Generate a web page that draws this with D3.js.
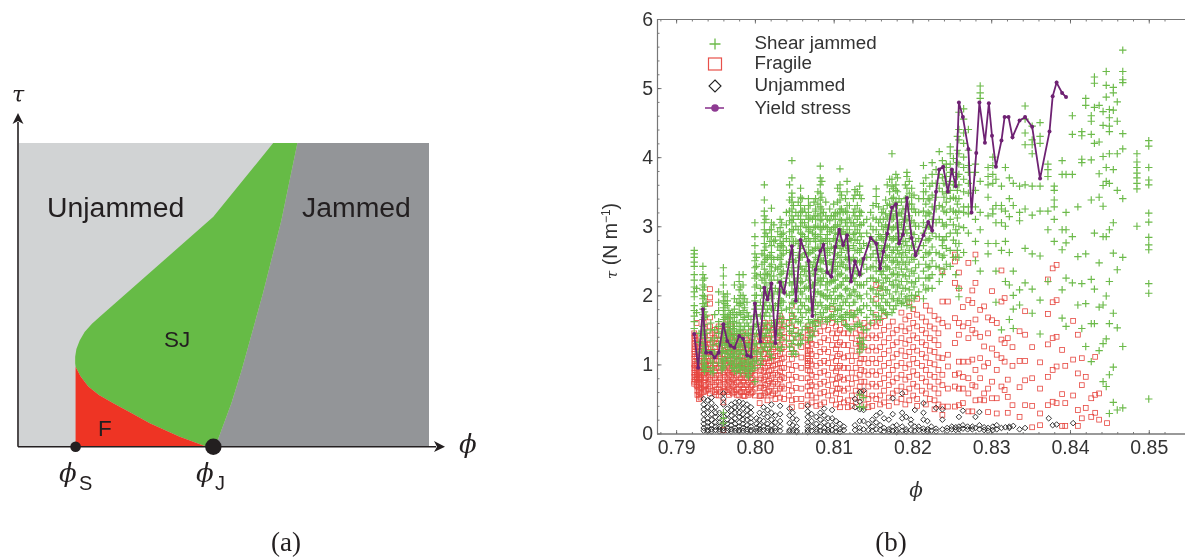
<!DOCTYPE html>
<html>
<head>
<meta charset="utf-8">
<script src="https://cdn.jsdelivr.net/npm/d3@7"></script>
<style>
    html, body { margin: 0; padding: 0; background: #fff; overflow: hidden; }
    svg { display: block; filter: blur(0.35px); }
</style>
</head>
<body>
<div id="chart"></div>
<script>
"use strict"

// panel (a), schematic outlines in axis fractions
let sjRight = [[0.679,1],[0.640,0.746],[0.595,0.505],[0.543,0.252],[0.518,0.143],[0.482,0.011],[0.474,0]];
let sjLeft = [[0.620,1],[0.474,0.757],[0.197,0.428],[0.178,0.405],[0.160,0.378],[0.148,0.350],[0.140,0.322],[0.137,0.296],[0.137,0.275],[0.138,0.263]];
let sjLower = [[0.138,0.263],[0.150,0.232],[0.169,0.198],[0.195,0.170],[0.230,0.143],[0.275,0.110],[0.319,0.077],[0.392,0.033],[0.453,0.002],[0.474,0]];
let markS = 0.138;
let markJ = 0.474;

// panel (b)
let xTicks = [0.79, 0.80, 0.81, 0.82, 0.83, 0.84, 0.85];
let yTicks = [0, 1, 2, 3, 4, 5, 6];
let legendNames = ["Shear jammed", "Fragile", "Unjammed", "Yield stress"];

let yieldPhi = [.7923,.7928,.7934,.7938,.7944,.7949,.7954,.7960,.7965,.7969,.7974,.7980,.7985,.7990,.7995,.8000,.8007,.8012,.8016,.8021,.8026,.8032,.8037,.8047,.8052,.8058,.8068,.8073,.8077,.8083,.8087,.8092,.8097,.8102,.8107,.8112,.8117,.8122,.8127,.8133,.8138,.8147,.8154,.8159,.8163,.8168,.8174,.8179,.8183,.8188,.8193,.8199,.8204,.8214,.8220,.8225,.8230,.8234,.8239,.8245,.8250,.8255,.8259,.8264,.8271,.8275,.8281,.8285,.8292,.8297,.8301,.8306,.8313,.8317,.8322,.8327,.8336,.8343,.8352,.8362,.8374,.8378,.8383,.8390,.8395];
let yieldTau = [1.44,.95,1.80,1.17,1.17,1.10,1.17,1.58,1.34,1.27,1.24,1.41,1.37,1.13,1.11,1.88,1.33,2.11,1.94,2.17,1.31,2.19,2.04,2.71,1.92,2.80,2.50,1.70,2.37,2.64,2.73,2.33,2.27,2.70,2.95,2.73,2.87,2.20,2.49,2.30,2.53,2.83,2.75,2.39,2.63,2.89,3.27,3.32,2.75,2.88,3.41,2.83,2.58,2.87,3.06,2.94,3.50,3.82,3.86,3.50,3.82,3.58,4.79,4.58,4.12,3.20,4.06,4.79,4.21,4.78,4.31,3.86,4.24,4.58,4.58,4.29,4.53,4.58,4.44,3.69,4.37,4.88,5.08,4.93,4.87];

// each row is one phi column with the stresses measured there
let shearJammed = [
[.7923,[2.65,2.6,2.55,2.48,2.42,2.3,2.22,2.12,2.05,1.98,1.85,1.78,1.7,1.62,1.52]],
[.7926,[2.1,1.75]],
[.7934,[2.42,2.3,2.22,2.15,2.08,2,1.95,1.88,1.8,1.72,1.65,1.55,1.48,1.42,1.3,1.22,1.12,1.02,.95]],
[.7938,[1.9,1.7,1.45,1.2,1.12,.98,.94]],
[.7944,[1.6,1.5,1.35,1.2,1.05,.9]],
[.7949,[1.72,1.5,1.38,1.18]],
[.7954,[2.05,1.9,1.78,1.62,1.55,1.45,1.3,1.15,1.02]],
[.7960,[2.4,2.28,2.15,2.02,1.92,1.82,1.72,1.65,1.55,1.45,1.35,1.2,1.05,.95,.3,.22,.15]],
[.7965,[2.02,1.92,1.85,1.7,1.6,1.5,1.42,1.3,1.2,1.1]],
[.7969,[1.72,1.6,1.5,1.4,1.3,1.2,1.1,1]],
[.7974,[2.15,1.95,1.8,1.68,1.55,1.45,1.35,1.25,1.15,1.05,.95,.9]],
[.7980,[2.3,2.2,2.08,1.95,1.85,1.75,1.6,1.5,1.4,1.3,1.2,1.1,1,.95]],
[.7985,[2.3,2.15,2,1.9,1.78,1.65,1.5,1.35,1.2,1.05,.95]],
[.7990,[1.9,1.75,1.6,1.45,1.3,1.15,1.05,.95,.85]],
[.7995,[1.65,1.5,1.35,1.2,1.08,.98,.9]],
[.8000,[3.05,2.85,2.72,2.6,2.5,2.4,2.32,2.25,2.12,2,1.92,1.8,1.7,1.55,1.4,1.3,1.2,1.05,.95,.75]],
[.8007,[2.3,2.1,1.9,1.7,1.5,1.3,1.15,1]],
[.8012,[3.6,3.38,3.22,3.15,3.05,2.95,2.85,2.75,2.65,2.58,2.48,2.38,2.25,2.12,2,1.85,1.7,1.55,1.4,1.25]],
[.8016,[2.85,2.55,2.3,2.05,1.8,1.5,1.2]],
[.8021,[3.26,3.05,2.95,2.85,2.72,2.62,2.55,2.45,2.35,2.22,2.1,1.95,1.8,1.6,1.4,1.25,1.1]],
[.8026,[2.8,2.4,2.1,1.85,1.6,1.35]],
[.8032,[3.1,2.98,2.85,2.75,2.65,2.52,2.42,2.3,2.18,2.05,1.95,1.85,1.7,1.5,1.35,1.2]],
[.8036,[2.9,2.78,2.7,2.6,2.35,2.15,1.9,1.65]],
[.8047,[3.95,3.7,3.48,3.42,3.35,3.25,3.15,3.05,2.95,2.85,2.72,2.62,2.52,2.4,2.3,2.15,2.05,1.9,1.75,1.6,1.45,1.3,1.15]],
[.8052,[3.2,3,2.78,2.5,2.2,1.95,1.65,1.4,1.15]],
[.8058,[3.55,3.42,3.3,3.2,3.1,3,2.9,2.8,2.68,2.55,2.42,2.3,2.18,2.05,1.9,1.75,1.6,1.42,1.3]],
[.8063,[3.25,3.05,2.85,2.6,2.35,2.1,1.85]],
[.8068,[3.4,3.3,3.2,3.1,3,2.92,2.82,2.7,2.6,2.48,2.35,2.22,2.1,1.95,1.8,1.65,1.5,1.35]],
[.8073,[3.1,2.9,2.65,2.4,2.15,1.9,1.6,1.4]],
[.8077,[3.4,3.25,3.22,3.1,3,2.88,2.78,2.68,2.55,2.42,2.3,2.18,2.05,1.9,1.72,1.55]],
[.8083,[3.87,3.7,3.6,3.48,3.38,3.28,3.18,3.08,2.98,2.88,2.78,2.68,2.58,2.48,2.38,2.25,2.15,2.02,1.9,1.75,1.6]],
[.8087,[3.2,3,2.75,2.5,2.25,2,1.75]],
[.8092,[3.1,2.98,2.88,2.78,2.68,2.58,2.45,2.35,2.2,2.08,1.95,1.8,1.62]],
[.8097,[3.15,2.95,2.7,2.45,2.2,1.95,1.7]],
[.8102,[3.2,3.1,3,2.9,2.8,2.7,2.6,2.48,2.35,2.22,2.1,1.95,1.8,1.65]],
[.8108,[3.83,3.6,3.5,3.38,3.25,3.2,3.1,3,2.9,2.8,2.68,2.55,2.42,2.3,2.15,2,1.85,1.7]],
[.8112,[3.2,2.95,2.7,2.45,2.2,1.9,1.65]],
[.8117,[3.65,3.5,3.3,3.2,3.1,3,2.9,2.78,2.65,2.52,2.4,2.25,2.1,1.95,1.75,1.55]],
[.8122,[3.05,2.8,2.5,2.25,2,1.75,1.5]],
[.8127,[3.53,3.45,3.25,3.15,3,2.9,2.8,2.65,2.5,2.35,2.2,2.05,1.9,1.72,1.55]],
[.8133,[3.58,3.45,3.22,3.15,3.02,2.9,2.75,2.62,2.48,2.3,2.15,2,1.8,1.6,1.38,1.3,1.22,1.18,.56,.39]],
[.8138,[3.05,2.75,2.45,2.15,1.85,1.5,1.35,1.25,.52,.38]],
[.8147,[3.2,3,2.85,2.7,2.55,2.4,2.25,2.1,1.95,1.78,1.6]],
[.8154,[3.54,3.43,3.33,3.1,2.95,2.8,2.65,2.5,2.35,2.2,2.02,1.85,1.65]],
[.8159,[3.1,2.85,2.6,2.35,2.1,1.85,1.65]],
[.8163,[3.25,3.1,2.95,2.8,2.65,2.5,2.35,2.18,2,1.8]],
[.8168,[3.6,3.3,3.12,2.98,2.85,2.7,2.55,2.4,2.25,2.08,1.9,1.72]],
[.8174,[4.05,3.68,3.58,3.4,3.22,3.1,2.95,2.8,2.62,2.48,2.3,2.15,1.95,1.75]],
[.8179,[3.75,3.6,3.52,3.35,3.18,3,2.85,2.7,2.55,2.4,2.22,2.05,1.85]],
[.8183,[3.4,3.2,3.05,2.9,2.75,2.6,2.45,2.3,2.15,1.95]],
[.8188,[3.25,3.1,2.95,2.78,2.62,2.48,2.3,2.1,1.9]],
[.8193,[3.78,3.72,3.55,3.42,3.25,3.08,2.9,2.72,2.55,2.38,2.2,1.98,1.85]],
[.8199,[3.55,3.42,3.32,3.25,3.08,2.9,2.72,2.55,2.35,2.18,2,1.82]],
[.8204,[3.2,3,2.78,2.6,2.4,2.2,2]],
[.8214,[3.88,3.62,3.5,3.4,3.22,3.05,2.9,2.72,2.55,2.35,2.15,1.95]],
[.8220,[3.4,3.2,3,2.8,2.6,2.4,2.25,2.1]],
[.8225,[3.92,3.75,3.62,3.45,3.28,3.1,2.9,2.7,2.5,2.3,2.1]],
[.8234,[4.08,3.75,3.55,3.3,3.1,2.85,2.6,2.4,2.2]],
[.8238,[3.95,3.7,3.5,3.28,3.05,2.8,2.72,2.55,2.3]],
[.8243,[3.9,3.85,3.72,3.6,3.48,3.35,3.2,3.02,2.85,2.68,2.45]],
[.8248,[4.15,4.05,3.9,3.78,3.65,3.52,3.4,3.25,3.1,2.9,2.65,2.42]],
[.8255,[3.6,3.4,3.2,2.95,2.75,2.55,2.3]],
[.8259,[4.65,4.4,4.25,4.05,3.9,3.75,3.6,3.4,3.22,3,2.75,2.55,2.1,1.98]],
[.8265,[4.7,4.55,4.35,4.2,4,3.85,3.68,3.5,3.28,3.2,2.98,2.62]],
[.8271,[4.4,4.1,3.88,3.78,3.62,3.48,3.28,3.18,2.9]],
[.8280,[3.9,3.78,3.52,3.28,3.1,2.78,2.5]],
[.8286,[5.03,4.93,4.85,3.65,3.2,2.95,2.35]],
[.8296,[3.85,3.72,3.6,3.42,3.15,2.75,2.6]],
[.8302,[4,3.88,3.75,3.62,3.25,3.18]],
[.8306,[3.68,3.3,3.05,2.75,2.35,1.9]],
[.8313,[3.58,3.3,3.25,3.05,2.65,1.5]],
[.8318,[3.85,3.22,3,2.78,2.2]],
[.8323,[3.7,3.4,3.14,2.62,2.15,1.65]],
[.8328,[3.62,3.3,2.35,2,1.8,1.52]],
[.8336,[3.58,3.2,3.08,2.08,1.86]],
[.8343,[4.74,4.55,4.35,4.18,3.6,3.25,2.68,2.18]],
[.8352,[4.45,4.25,4.18,4.05,3.58,3.16,2.6,2.09,1.74]],
[.8362,[4.5,4.3,4.2,3.58,3.22,2.57,1.93,1.44]],
[.8372,[3.9,3.82,3.72,3.22,2.95,2.2]],
[.8380,[3.58,3.52,3.38,3.28,3.1,2.78]],
[.8390,[3.75,3.95,2.95,2.66,2.08,1.67]],
[.8395,[3.75,3.2,2.95,2.76,2.25,1.55]],
[.8403,[4.6,4.33,3.75,2.85,2.18]],
[.8410,[3.28,2.56,1.86]],
[.8415,[4.37,4.31,3.97,3.92,2.17,1.52]],
[.8420,[4.85,4.75,2.6,1.88,1.26]],
[.8427,[4.6,4.52,4.33,3.96,3.38,2.23,1.59,1.04]],
[.8431,[5.16,5.07,4.72,4.2,2.9,2.09,1.59]],
[.8437,[4.75,4.22,3.76,3.42,2.47,1.83,1.2]],
[.8442,[4.66,4.46,4.01,3.59,3.29,2.85,1.86,1.3,.75]],
[.8446,[5.24,5.04,4.87,3.85,3.65,2.85,1.99,1.37,.68]],
[.8450,[4.69,4.57,4.45,4.37,4.05,3.62,2.95,2.2,1.59,.85,.29]],
[.8455,[5.01,4.93,4.68,3.82,3.05,2.61,1.74,.96,.45]],
[.8460,[4.8,4.52,4.05,3.52,2.37,1.53,.34]],
[.8467,[5.55,5.24,5.12,5.08,4.34,4.12,3.4,2.55,1.26,.37]],
[.8485,[4.05,3.93,3.85,3.77,3.7,3.62,3.54,3]],
[.8500,[4.24,4.16,3.85,3.67,3.6,3.19,3.06,2.84,2.73,2.66,2.17,2.03,.5]],
// second passes over the crowded columns
[.7929,[1.45,1.32,1.18,1.05]],
[.7936,[2.25,2.12,1.98,1.84,1.76,1.68,1.58,1.5,1.38,1.26,1.16,1.06,.98,.9]],
[.7947,[1.28,1.12,1.02,.95,.88]],
[.7958,[1.48,1.38,1.28,1.18,1.08,.98,.92]],
[.7962,[1.98,1.88,1.78,1.68,1.58,1.48,1.38,1.28,1.16,1.06,.98]],
[.7967,[1.78,1.66,1.55,1.45,1.35,1.25,1.15,1.05]],
[.7972,[1.75,1.62,1.52,1.42,1.32,1.22,1.12,1.02,.94]],
[.7977,[1.9,1.72,1.6,1.48,1.38,1.28,1.18,1.08,.98,.9]],
[.7982,[2.12,2,1.88,1.72,1.55,1.45,1.35,1.25,1.15,1.05,.96,.88]],
[.7987,[1.95,1.82,1.68,1.55,1.42,1.28,1.15,1.02,.92]],
[.7992,[1.7,1.55,1.42,1.25,1.1,1,.9,.82]],
[.7997,[1.45,1.28,1.14,1.02,.94]],
[.8002,[2.55,2.42,2.28,2.15,2,1.85,1.72,1.58,1.45,1.3,1.18,1.06]],
[.8009,[2.6,2.45,2.22,2,1.8,1.6,1.42,1.22,1.08]],
[.8014,[3.1,2.9,2.7,2.52,2.32,2.18,2.05,1.9,1.75,1.6,1.45,1.3]],
[.8019,[2.95,2.78,2.58,2.42,2.28,2.15,2,1.85,1.7,1.5,1.3,1.15]],
[.8024,[3.02,2.78,2.52,2.28,2.02,1.78,1.55,1.3]],
[.8029,[2.92,2.7,2.55,2.38,2.22,2.05,1.88,1.65,1.45,1.25]],
[.8034,[3.05,2.88,2.72,2.58,2.45,2.32,2.2,2.08,1.92,1.78,1.6,1.42,1.25]],
[.8040,[3.2,3.02,2.82,2.65,2.45,2.25,2.02,1.8,1.55,1.35]],
[.8044,[3.6,3.38,3.22,3.08,2.92,2.78,2.62,2.48,2.32,2.18,2,1.82,1.65,1.48,1.25]],
[.8049,[3.3,3.1,2.95,2.78,2.62,2.48,2.35,2.2,2.05,1.88,1.7,1.52,1.35,1.2]],
[.8055,[3.35,3.15,2.95,2.75,2.58,2.4,2.25,2.1,1.95,1.8,1.62,1.45,1.28]],
[.8060,[3.4,3.22,3.05,2.88,2.72,2.55,2.38,2.2,2.02,1.85,1.68,1.5,1.35]],
[.8065,[3.15,2.98,2.78,2.62,2.42,2.28,2.12,1.95,1.75,1.55]],
[.8070,[3.3,3.12,2.95,2.78,2.62,2.45,2.28,2.12,1.95,1.78,1.6,1.42]],
[.8075,[3.35,3.15,2.98,2.82,2.65,2.48,2.32,2.15,1.98,1.8,1.62,1.48]],
[.8080,[3.5,3.32,3.15,3,2.85,2.7,2.52,2.38,2.22,2.05,1.85,1.65]],
[.8085,[3.65,3.42,3.25,3.1,2.95,2.8,2.65,2.5,2.35,2.2,2.02,1.85,1.68]],
[.8090,[3.35,3.15,3,2.82,2.65,2.5,2.32,2.15,1.98,1.82,1.65]],
[.8095,[3.25,3.08,2.92,2.78,2.62,2.48,2.32,2.18,2,1.85,1.68]],
[.8100,[3.32,3.15,2.98,2.82,2.68,2.52,2.38,2.22,2.05,1.88,1.72]],
[.8105,[3.55,3.35,3.18,3.02,2.88,2.72,2.58,2.42,2.28,2.12,1.95,1.78,1.62]],
[.8110,[3.45,3.25,3.08,2.92,2.78,2.62,2.48,2.32,2.15,1.98,1.8,1.68]],
[.8115,[3.4,3.22,3.05,2.88,2.72,2.55,2.4,2.25,2.08,1.9,1.72,1.58]],
[.8120,[3.3,3.12,2.95,2.82,2.68,2.52,2.38,2.2,2.02,1.85,1.68,1.52]],
[.8125,[3.4,3.2,3.05,2.88,2.72,2.55,2.4,2.25,2.08,1.9,1.7]],
[.8130,[3.5,3.3,3.1,2.95,2.8,2.65,2.5,2.32,2.15,1.98,1.78,1.58]],
[.8135,[3.4,3.2,3.02,2.85,2.68,2.5,2.32,2.15,1.95,1.75,1.55,1.3]],
[.8142,[3.1,2.9,2.72,2.55,2.38,2.2,2.02,1.85,1.68,1.5]],
[.8150,[3.3,3.12,2.95,2.78,2.6,2.42,2.25,2.08,1.9,1.72]],
[.8157,[3.28,3.05,2.88,2.72,2.55,2.4,2.22,2.02,1.85,1.7]],
[.8161,[3.2,3,2.82,2.68,2.48,2.3,2.12,1.95,1.78]],
[.8166,[3.38,3.18,3.02,2.88,2.72,2.58,2.42,2.25,2.08,1.9,1.75]],
[.8171,[3.68,3.5,3.32,3.15,3,2.85,2.7,2.55,2.38,2.2,2.02,1.85]],
[.8176,[3.55,3.42,3.28,3.12,2.98,2.82,2.65,2.5,2.32,2.15,1.95,1.8]],
[.8181,[3.7,3.5,3.3,3.15,2.98,2.8,2.65,2.48,2.3,2.12,1.92]],
[.8186,[3.35,3.18,3.02,2.85,2.7,2.55,2.38,2.2,2.02,1.88]],
[.8191,[3.6,3.4,3.25,3.1,2.95,2.78,2.62,2.45,2.28,2.1,1.95]],
[.8196,[3.65,3.48,3.32,3.15,3,2.82,2.65,2.48,2.28,2.08,1.92]],
[.8202,[3.45,3.25,3.05,2.88,2.7,2.52,2.32,2.12,1.95]],
[.8208,[3.4,3.2,3,2.82,2.65,2.45,2.25,2.05]],
[.8217,[3.7,3.5,3.32,3.15,2.98,2.8,2.62,2.45,2.25,2.08]],
[.8222,[3.58,3.38,3.18,3,2.82,2.62,2.42,2.25]],
[.8230,[3.82,3.62,3.42,3.25,3.05,2.85,2.62,2.42]],
[.8240,[3.85,3.62,3.42,3.22,3,2.8,2.58,2.38]],
[.8252,[3.98,3.78,3.6,3.42,3.22,3.02,2.8,2.55]],
[.8257,[4.3,4.1,3.92,3.72,3.52,3.32,3.12,2.9,2.65]]
];

let fragile = [
[.7923,[1.45,1.38,1.3,1.22,1.15,1.08,1,.95,.88,.82,.75,.72]],
[.7926,[1.6,1.35,1.25,1.1,1,.9,.82,.78,.7]],
[.7929,[1.2,1.05,.98,.9,.85,.8,.75,.7,.65,.6,.55,.5]],
[.7935,[1.6,1.52,1.4,1.3,1.2,1.1,1,.92,.85,.75,.65,.6]],
[.7938,[1.25,1.12,1,.9,.8,.7,.62]],
[.7943,[2.09,1.97,1.88,1.68,1.55,1.42,1.3,1.18,1.05,.98,.88,.78,.68,.58]],
[.7949,[1.5,1.38,1.25,1.12,1,.9,.8,.7,.6]],
[.7954,[1.55,1.42,1.3,1.15,1.05,.95,.85,.75,.65,.55]],
[.7960,[1.35,1.2,1.08,.98,.88,.78,.68,.6,.45,.05]],
[.7965,[1.65,1.5,1.35,1.25,1.12,1,.9,.8,.7,.6]],
[.7970,[1.55,1.4,1.28,1.15,1.02,.92,.82,.72,.62]],
[.7974,[1.4,1.25,1.12,1,.9,.8,.7,.6]],
[.7980,[1.3,1.18,1.05,.95,.85,.75,.65,.55]],
[.7985,[1.45,1.3,1.18,1.05,.95,.85,.75,.65,.55]],
[.7990,[1.35,1.22,1.1,1,.9,.8,.7,.6]],
[.7995,[1.48,1.32,1.2,1.08,.98,.88,.78,.68,.58]],
[.8000,[1.22,1.08,.95,.85,.75,.65,.55]],
[.8006,[1.4,1.28,1.15,1.02,.9,.78,.66,.54,.44]],
[.8011,[1.55,1.42,1.28,1.15,1.02,.9,.78,.66,.55]],
[.8016,[1.38,1.22,1.1,.98,.85,.72,.6,.48]],
[.8021,[1.6,1.45,1.3,1.18,1.05,.92,.8,.68,.55]],
[.8026,[1.25,1.12,1,.88,.75,.62,.5]],
[.8032,[1.7,1.58,1.42,1.28,1.15,1.02,.9,.78,.65,.52]],
[.8037,[1.55,1.4,1.25,1.1,.95,.8,.65,.5]],
[.8047,[1.85,1.7,1.55,1.38,1.22,1.08,.92,.78,.62,.48,.38]],
[.8052,[1.5,1.32,1.15,.98,.82,.66,.5]],
[.8059,[1.4,1.25,1.1,.95,.8,.65,.5,.4]],
[.8067,[1.55,1.5,1.42,1.28,1.2,1.12,1.05,.98,.92,.8,.68,.55,.42]],
[.8072,[1.45,1.3,1.15,1,.85,.7,.55,.45]],
[.8078,[1.6,1.45,1.28,1.12,.98,.82,.68,.52,.4]],
[.8083,[1.65,1.48,1.32,1.18,1.02,.88,.72,.58,.42]],
[.8088,[1.55,1.38,1.22,1.05,.9,.75,.6,.45]],
[.8093,[1.65,1.5,1.35,1.18,1.02,.85,.7,.55]],
[.8098,[1.8,1.6,1.45,1.28,1.1,.95,.78,.62,.48]],
[.8103,[1.55,1.38,1.22,1.05,.9,.72,.58,.42]],
[.8108,[1.5,1.32,1.15,.98,.82,.65,.5,.38]],
[.8113,[1.6,1.45,1.28,1.1,.95,.78,.62,.45]],
[.8118,[1.45,1.28,1.12,.95,.8,.65,.48,.38]],
[.8123,[1.75,1.55,1.38,1.2,1.05,.88,.72,.55,.4]],
[.8128,[1.65,1.45,1.3,1.12,.95,.8,.62,.45]],
[.8133,[1.5,1.35,1.3,1.2,1.02,.85,.68,.52]],
[.8139,[1.6,1.42,1.25,1.08,.9,.75,.58,.42]],
[.8144,[1.55,1.38,1.2,1.02,.85,.68,.5,.38]],
[.8149,[1.6,1.42,1.25,1.08,.9,.72,.55,.4]],
[.8154,[2.15,1.95,1.72,1.55,1.38,1.2,1.02,.85,.68,.5]],
[.8159,[2.1,1.6,1.42,1.25,1.08,.9,.72,.55,.42]],
[.8164,[1.7,1.5,1.32,1.15,.98,.8,.62,.45]],
[.8170,[1.55,1.38,1.2,1.02,.85,.7,.52,.4]],
[.8175,[1.62,1.45,1.28,1.1,.92,.75,.58]],
[.8180,[1.5,1.32,1.15,.98,.8,.62,.45]],
[.8186,[1.75,1.55,1.38,1.2,1.02,.85,.68,.5]],
[.8191,[1.65,1.48,1.3,1.12,.95,.78,.6,.42]],
[.8196,[1.9,1.7,1.52,1.35,1.18,1,.82,.65,.48]],
[.8201,[1.8,1.6,1.42,1.25,1.08,.9,.72,.55]],
[.8206,[1.95,1.72,1.55,1.38,1.2,1.02,.85,.68,.5,.4]],
[.8212,[1.68,1.5,1.32,1.15,.98,.8,.62]],
[.8217,[1.85,1.62,1.45,1.28,1.1,.92,.75,.58,.42]],
[.8222,[1.78,1.55,1.38,1.2,1.02,.85,.68,.5]],
[.8228,[1.7,1.52,1.35,1.18,1,.82,.65,.48,.35]],
[.8233,[1.65,1.45,1.28,1.1,.92,.75,.58,.42]],
[.8238,[2.35,1.91,1.6,1.09,.85,.7,.39,.27]],
[.8245,[1.91,1.55,1.14,.97,.65,.39]],
[.8254,[2.59,2.49,2.18,1.67,1.31,.85,.68,.39]],
[.8259,[2.33,2.1,1.6,1.43,1.04,.87,.65,.41]],
[.8264,[1.83,1.55,1.04,.82,.65,.44]],
[.8271,[2.47,1.93,1.6,1.38,1.04,.8,.58,.32]],
[.8276,[2.07,1.89,1.5,1.07,.7,.32]],
[.8280,[2.59,2.18,1.65,1.45,.92,.68,.48]],
[.8286,[1.79,1.4,1.09,.8,.49]],
[.8291,[1.84,1.26,.97,.58,.48]],
[.8296,[1.68,1.45,1.02,.65,.31]],
[.8301,[2.06,1.64,1.23,.75,.51]],
[.8307,[1.6,1.14,.92,.51,.29]],
[.8313,[2.36,1.91,1.36,1.09,.68]],
[.8317,[1.96,1.31,1.04,.63]],
[.8321,[1.38,.78,.53,.3]],
[.8327,[1.25,.98,.41]],
[.8336,[1.48,1.05,.67,.24]],
[.8343,[1.77,1.43,1.05,.77,.41]],
[.8352,[1.25,.8,.4,.09]],
[.8362,[1.03,.65,.29,.12]],
[.8372,[2.23,1.73,1.29,.82,.41]],
[.8378,[2.39,1.9,1.38,.92,.46]],
[.8383,[2.44,1.93,1.4,.97,.44]],
[.8390,[1.21,.57,.11]],
[.8394,[.98,.44,.11]],
[.8404,[1.63,1.07,.55]],
[.8410,[1.43,.87,.34,.11]],
[.8415,[1.09,.7,.22]],
[.8420,[.82,.37]],
[.8427,[.51,.24]],
[.8432,[1.11,.56,.3]],
[.8437,[.58,.2]],
[.8447,[.15]],
// second passes over the crowded columns
[.7924,[1.42,1.34,1.26,1.18,1.12,1.04,.98,.92,.85,.78]],
[.7927,[1.3,1.18,1.05,.95,.86,.8,.74,.68,.62,.56]],
[.7931,[.96,.88,.82,.78,.72,.66,.58,.52]],
[.7936,[1.45,1.35,1.25,1.15,1.05,.96,.88,.8,.7,.62]],
[.7941,[1.35,1.22,1.1,1,.92,.82,.72,.64]],
[.7946,[1.45,1.32,1.18,1.06,.95,.84,.74,.62]],
[.7951,[1.42,1.3,1.18,1.05,.95,.84,.74,.64,.56]],
[.7956,[1.48,1.36,1.22,1.1,1,.9,.8,.7,.6]],
[.7962,[1.42,1.28,1.15,1.02,.92,.82,.72,.62]],
[.7967,[1.45,1.3,1.18,1.05,.95,.85,.75,.65,.56]],
[.7972,[1.35,1.2,1.08,.98,.88,.78,.68,.58]],
[.7977,[1.28,1.15,1.04,.94,.84,.74,.64,.56]],
[.7982,[1.4,1.25,1.12,1,.9,.8,.7,.6]],
[.7987,[1.38,1.24,1.1,1,.9,.8,.7,.6,.54]],
[.7992,[1.28,1.15,1.04,.94,.84,.74,.64,.56]],
[.7997,[1.4,1.26,1.12,1,.9,.8,.7,.6]],
[.8008,[1.52,1.35,1.2,1.05,.92,.8,.68,.55]],
[.8013,[1.6,1.48,1.35,1.22,1.08,.95,.82,.7,.58]],
[.8018,[1.55,1.42,1.28,1.15,1.02,.9,.76,.62]],
[.8023,[1.5,1.35,1.22,1.1,.98,.85,.72,.58]],
[.8029,[1.55,1.4,1.26,1.12,1,.85,.72,.58]],
[.8034,[1.65,1.5,1.36,1.22,1.08,.95,.82,.68]],
[.8043,[1.6,1.45,1.3,1.15,1,.85,.7,.55]],
[.8067,[1.36,1.26,1.16,1.08,1.02]],
[.8070,[1.5,1.35,1.2,1.05,.9,.75,.62]],
[.8105,[1.45,1.28,1.12,.95,.8,.65]],
[.8135,[1.42,1.25,1.08,.92,.75,.6]]
];

let unjammed = [
[.7935,[.5,.42,.35,.28,.2,.14,.08,.04]],
[.7940,[.48,.38,.3,.22,.16,.1,.05,.03]],
[.7945,[.52,.44,.36,.28,.2,.12,.06,.03]],
[.7950,[.38,.3,.24,.16,.1,.05]],
[.7955,[.3,.22,.16,.1,.06,.03]],
[.7960,[.58,.5,.42,.25,.15,.08,.04]],
[.7965,[.36,.28,.2,.14,.08,.04]],
[.7970,[.42,.34,.26,.18,.12,.06,.03]],
[.7975,[.45,.38,.3,.22,.14,.08,.04]],
[.7980,[.46,.38,.3,.24,.16,.1,.05,.03]],
[.7985,[.44,.36,.28,.2,.14,.08,.04]],
[.7990,[.42,.34,.26,.2,.12,.06,.03]],
[.7995,[.38,.3,.22,.16,.1,.05,.03]],
[.8002,[.22,.14,.08,.04]],
[.8006,[.3,.2,.12,.06,.03]],
[.8011,[.38,.28,.18,.1,.05]],
[.8016,[.34,.24,.14,.08,.04]],
[.8021,[.42,.3,.2,.12,.05,.03]],
[.8026,[.26,.16,.08,.04]],
[.8032,[.4,.28,.18,.1,.04]],
[.8044,[.36,.26,.15,.05,.03]],
[.8048,[.3,.22,.12,.04]],
[.8053,[.2,.1,.04,.02]],
[.8067,[.4,.32,.24,.16,.1,.05,.02]],
[.8072,[.28,.18,.1,.04]],
[.8078,[.24,.14,.06,.03]],
[.8083,[.3,.2,.1,.04]],
[.8088,[.36,.26,.16,.08,.03]],
[.8093,[.22,.12,.05,.02]],
[.8098,[.34,.22,.12,.05]],
[.8103,[.18,.08,.03]],
[.8108,[.14,.06,.02]],
[.8113,[.1,.05]],
[.8127,[.5,.38,.12,.05]],
[.8133,[.6,.46,.35,.18,.08,.03]],
[.8138,[.62,.34,.18,.06]],
[.8144,[.14,.05]],
[.8149,[.2,.1,.04]],
[.8154,[.26,.16,.06]],
[.8159,[.3,.12,.05]],
[.8164,[.22,.08,.03]],
[.8170,[.2,.06,.03]],
[.8175,[.51,.28,.1,.04]],
[.8180,[.12,.05,.02]],
[.8187,[.58,.3,.22,.1,.04]],
[.8192,[.24,.06,.03]],
[.8198,[.2,.14,.05]],
[.8203,[.34,.1,.04]],
[.8208,[.1,.05]],
[.8214,[.44,.3,.2,.07,.03]],
[.8219,[.18,.06,.03]],
[.8224,[.1,.04]],
[.8230,[.37,.07,.03]],
[.8238,[.35,.2,.06]],
[.8244,[.08,.04]],
[.8250,[.1,.06]],
[.8255,[.09,.05]],
[.8259,[.24,.1,.06]],
[.8264,[.33,.12,.07]],
[.8270,[.1,.06]],
[.8276,[.1,.06]],
[.8280,[.24,.08]],
[.8285,[.31,.12,.06]],
[.8291,[.09,.05]],
[.8296,[.08,.04]],
[.8302,[.1,.05]],
[.8307,[.12,.06]],
[.8313,[.08]],
[.8318,[.09]],
[.8323,[.08,.1]],
[.8328,[.11]],
[.8336,[.06]],
[.8343,[.08]],
[.8373,[.22]],
[.8378,[.12]],
[.8383,[.13]],
[.8404,[.15]]
];

function drawPanelA(svg){
    let x = d3.scaleLinear().domain([0, 1]).range([19, 429]);
    let y = d3.scaleLinear().domain([0, 1]).range([446.7, 143]);
    let line = d3.line().x(d => x(d[0])).y(d => y(d[1]));
    let ink = "#231f20";

    svg.append("rect")
        .attr("x", x(0)).attr("y", y(1))
        .attr("width", x(1) - x(0)).attr("height", y(0) - y(1))
        .style("fill", "#d1d3d4");

    // jammed region sits right of the shear jammed wedge
    svg.append("path")
        .attr("d", line(sjRight.concat([[1,0],[1,1]])) + "Z")
        .style("fill", "#939598");

    // shear jammed wedge, closed along the fragile edge
    svg.append("path")
        .attr("d", line(sjRight.slice().reverse().concat(sjLeft, sjLower)) + "Z")
        .style("fill", "#66bb46");

    // fragile
    svg.append("path")
        .attr("d", line(sjLower) + "L" + x(markS) + "," + y(0) + "Z")
        .style("fill", "#ee3424");

    // axes with arrow heads
    svg.append("line").attr("x1", 18).attr("x2", 436).attr("y1", y(0)).attr("y2", y(0))
        .style("stroke", ink).style("stroke-width", 1.6);
    svg.append("line").attr("x1", 18).attr("x2", 18).attr("y1", y(0)).attr("y2", 122)
        .style("stroke", ink).style("stroke-width", 1.6);
    svg.append("path").attr("d", "M445,446.7L434,441L437,446.7L434,452Z").style("fill", ink);
    svg.append("path").attr("d", "M18,113L12.5,124L18,121L23.5,124Z").style("fill", ink);

    svg.append("circle").attr("cx", x(markS)).attr("cy", y(0)).attr("r", 5.3).style("fill", ink);
    svg.append("circle").attr("cx", x(markJ)).attr("cy", y(0)).attr("r", 8.2).style("fill", ink);

    let labels = [["Unjammed", 47, 217, 28.4], ["Jammed", 302, 217, 28.4], ["SJ", 164, 347, 22.5], ["F", 98, 436, 22.5]];
    labels.forEach(function(d){
        svg.append("text").attr("x", d[1]).attr("y", d[2])
            .style("font-family", "'Liberation Sans'")
            .style("font-size", d[3] + "px")
            .style("fill", ink)
            .text(d[0]);
    });

    let greek = [["\u03C4", 12, 102, 22], ["\u03D5", 459, 453, 26], ["\u03D5", 59, 482, 26], ["\u03D5", 196, 482, 26]];
    greek.forEach(function(d){
        svg.append("text").attr("x", d[1]).attr("y", d[2])
            .style("font-family", "'DejaVu Serif'")
            .style("font-style", "italic")
            .style("font-size", d[3] + "px")
            .style("fill", ink)
            .text(d[0]);
    });

    svg.append("text").attr("x", 79).attr("y", 490)
        .style("font-family", "'Liberation Sans'").style("font-size", "20px").style("fill", ink).text("S");
    svg.append("text").attr("x", 215).attr("y", 490)
        .style("font-family", "'Liberation Sans'").style("font-size", "20px").style("fill", ink).text("J");

    svg.append("text").attr("x", 286).attr("y", 551)
        .attr("text-anchor", "middle")
        .style("font-family", "'Liberation Serif'").style("font-size", "27px").style("fill", ink).text("(a)");
}

function flatten(columns){
    return columns.flatMap(d => d[1].map(t => [d[0], t]));
}

function drawPanelB(svg){
    let x = d3.scaleLinear().domain([0.7877, 0.8546]).range([658, 1185]);
    let y = d3.scaleLinear().domain([0, 6]).range([433.5, 19]);
    let ink = "#333";

    let plusPath = "M-3.7,0H3.7M0,-3.7V3.7";
    let diamondPath = "M0,-2.8L2.8,0L0,2.8L-2.8,0Z";

    // fragile first, the other sets print over it
    svg.append("g").selectAll("rect")
        .data(flatten(fragile))
        .join("rect")
        .attr("x", d => x(d[0]) - 2.4)
        .attr("y", d => y(d[1]) - 2.4)
        .attr("width", 4.8)
        .attr("height", 4.8)
        .style("fill", "none")
        .style("stroke", "#e6463f")
        .style("stroke-width", 0.8);

    svg.append("g").selectAll("path")
        .data(flatten(unjammed))
        .join("path")
        .attr("transform", d => "translate(" + x(d[0]) + "," + y(d[1]) + ")")
        .attr("d", diamondPath)
        .style("fill", "none")
        .style("stroke", "#2a2a2a")
        .style("stroke-width", 0.95);

    svg.append("g").selectAll("path")
        .data(flatten(shearJammed))
        .join("path")
        .attr("transform", d => "translate(" + x(d[0]) + "," + y(d[1]) + ")")
        .attr("d", plusPath)
        .style("fill", "none")
        .style("stroke", "#6cba4a")
        .style("stroke-width", 1.15);

    let yieldPoints = d3.zip(yieldPhi, yieldTau);
    let line = d3.line().x(d => x(d[0])).y(d => y(d[1]));
    svg.append("path")
        .attr("d", line(yieldPoints))
        .style("fill", "none")
        .style("stroke", "#6f2273")
        .style("stroke-width", 1.8);
    svg.append("g").selectAll("circle")
        .data(yieldPoints)
        .join("circle")
        .attr("cx", d => x(d[0]))
        .attr("cy", d => y(d[1]))
        .attr("r", 2)
        .style("fill", "#6f2273");

    // frame and ticks point inward
    let minorX = d3.range(0, 33).map(i => 0.788 + i * 0.002);
    let minorY = d3.range(0, 31).map(i => i * 0.2);
    let axes = [
        [d3.axisBottom(x).tickValues(xTicks).tickFormat(d3.format(".2f")).tickSize(-4).tickPadding(6), "translate(0,434)", true],
        [d3.axisBottom(x).tickValues(minorX).tickFormat("").tickSize(-2), "translate(0,434)", false],
        [d3.axisTop(x).tickValues(xTicks).tickFormat("").tickSize(-4), "translate(0,19.5)", false],
        [d3.axisTop(x).tickValues(minorX).tickFormat("").tickSize(-2), "translate(0,19.5)", false],
        [d3.axisLeft(y).tickValues(yTicks).tickFormat(d3.format("d")).tickSize(-4).tickPadding(4.5), "translate(657.5,0)", true],
        [d3.axisLeft(y).tickValues(minorY).tickFormat("").tickSize(-2), "translate(657.5,0)", false]
    ];
    axes.forEach(function(a){
        let g = svg.append("g").attr("transform", a[1]).call(a[0]);
        g.select(".domain").remove();
        g.selectAll(".tick line").style("stroke", "#555").style("stroke-width", 0.8);
        if(a[2]){
            g.selectAll("text")
                .style("font-family", "'Liberation Sans'")
                .style("font-size", "19.5px")
                .style("fill", ink);
        }
    });

    svg.append("line").attr("x1", 657.5).attr("x2", 1185).attr("y1", 19.5).attr("y2", 19.5)
        .style("stroke", "#777").style("stroke-width", 1.2);
    svg.append("line").attr("x1", 657.5).attr("x2", 657.5).attr("y1", 19).attr("y2", 434)
        .style("stroke", "#777").style("stroke-width", 1.2);
    svg.append("line").attr("x1", 657).attr("x2", 1185).attr("y1", 434).attr("y2", 434)
        .style("stroke", "#777").style("stroke-width", 1.6);

    // axis titles
    let yTitle = svg.append("text")
        .attr("transform", "translate(617,241) rotate(-90)")
        .attr("text-anchor", "middle")
        .style("font-family", "'Liberation Sans'")
        .style("font-size", "19.5px")
        .style("fill", ink);
    yTitle.append("tspan").style("font-family", "'DejaVu Serif'").style("font-style", "italic").style("font-size", "15px").text("\u03C4");
    yTitle.append("tspan").text(" (N m");
    yTitle.append("tspan").attr("dy", -7).style("font-size", "12px").text("\u22121");
    yTitle.append("tspan").attr("dy", 7).text(")");

    svg.append("text").attr("x", 916).attr("y", 497)
        .attr("text-anchor", "middle")
        .style("font-family", "'DejaVu Serif'").style("font-style", "italic")
        .style("font-size", "20px").style("fill", ink).text("\u03D5");

    svg.append("text").attr("x", 891).attr("y", 551)
        .attr("text-anchor", "middle")
        .style("font-family", "'Liberation Serif'").style("font-size", "27px").style("fill", "#231f20").text("(b)");

    // legend
    let legendY = [44, 64, 86, 108];
    let legendBase = [49, 69, 91, 114];
    legendNames.forEach(function(name, i){
        svg.append("text").attr("x", 754.5).attr("y", legendBase[i])
            .style("font-family", "'Liberation Sans'")
            .style("font-size", "18.8px")
            .style("fill", ink)
            .text(name);
    });
    svg.append("path").attr("transform", "translate(715," + legendY[0] + ")")
        .attr("d", "M-5.5,0H5.5M0,-5.5V5.5").style("stroke", "#6cba4a").style("stroke-width", 1.3).style("fill", "none");
    svg.append("rect").attr("x", 708.5).attr("y", legendY[1] - 6).attr("width", 13).attr("height", 12)
        .style("fill", "none").style("stroke", "#e8504a").style("stroke-width", 1.2);
    svg.append("path").attr("transform", "translate(715," + legendY[2] + ")")
        .attr("d", "M0,-6L6,0L0,6L-6,0Z").style("fill", "none").style("stroke", "#222").style("stroke-width", 1.1);
    svg.append("line").attr("x1", 705).attr("x2", 724).attr("y1", legendY[3]).attr("y2", legendY[3])
        .style("stroke", "#8e3a92").style("stroke-width", 1.6);
    svg.append("circle").attr("cx", 715).attr("cy", legendY[3]).attr("r", 3.8).style("fill", "#8e3a92");
}

let svg = d3.select("#chart").append("svg").attr("width", 1185).attr("height", 558);
drawPanelA(svg);
drawPanelB(svg);
</script>
</body>
</html>
